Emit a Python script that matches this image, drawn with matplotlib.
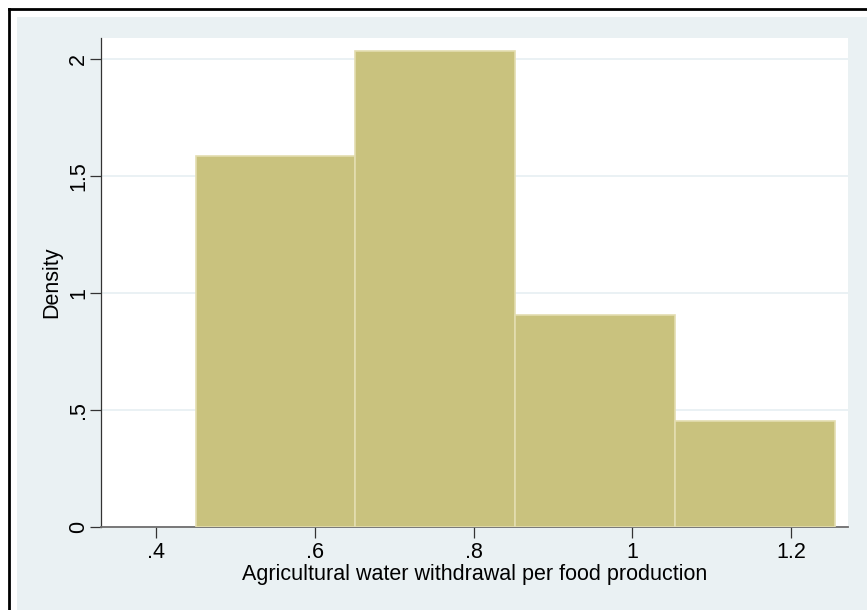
import matplotlib.pyplot as plt
from matplotlib.lines import Line2D

plt.rcParams['font.family'] = ['Liberation Sans', 'DejaVu Sans']

# histogram bins (left edges) and densities
bin_left = [0.4497, 0.6510, 0.8523, 1.0536]
bin_width = 0.2013
density = [1.585, 2.035, 0.906, 0.454]

x_ticks = [0.4, 0.6, 0.8, 1.0, 1.2]
x_labels = ['.4', '.6', '.8', '1', '1.2']
y_ticks = [0, 0.5, 1, 1.5, 2]
y_labels = ['0', '.5', '1', '1.5', '2']

fig = plt.figure(figsize=(8.67, 6.10), dpi=100)
fig.patch.set_facecolor('white')

# stata-like outer panel
fig.patches.append(plt.Rectangle((17/867, 0), 1, 1 - 17/610, transform=fig.transFigure,
                                 facecolor='#eaf1f3', edgecolor='none', zorder=-10))
fig.lines.append(Line2D([9/867, 9/867], [0, 1 - 9/610], transform=fig.transFigure,
                        color='black', lw=2))
fig.lines.append(Line2D([9/867, 1], [1 - 9/610, 1 - 9/610], transform=fig.transFigure,
                        color='black', lw=2))

ax = fig.add_axes([101/867, 83/610, 747/867, 489/610])
ax.set_facecolor('white')

ax.bar(bin_left, density, width=bin_width, align='edge',
       color='#c9c27e', edgecolor='#e3ddb0', linewidth=1.2, zorder=3)

ax.set_xlim(0.3306, 1.2716)
ax.set_ylim(0, 2.09)

ax.set_xticks(x_ticks)
ax.set_xticklabels(x_labels)
ax.set_yticks(y_ticks)
ax.set_yticklabels(y_labels, rotation=90, va='center')

ax.grid(axis='y', color='#e6eff2', linewidth=1.2, zorder=0)
ax.set_axisbelow(True)

for s in ['top', 'right']:
    ax.spines[s].set_visible(False)
ax.spines['left'].set_color('#333333')
ax.spines['left'].set_linewidth(0.9)
ax.spines['bottom'].set_color('#6e6e6e')
ax.spines['bottom'].set_linewidth(1.3)

ax.tick_params(axis='both', direction='out', length=8, width=0.9, color='#333333',
               labelsize=15.5)
ax.tick_params(axis='x', pad=2.5)
ax.tick_params(axis='y', pad=0.5)

ax.set_xlabel('Agricultural water withdrawal per food production', fontsize=15.5, labelpad=1)
ax.set_ylabel('Density', fontsize=15.5, labelpad=4)

plt.savefig('out.png', dpi=100)
